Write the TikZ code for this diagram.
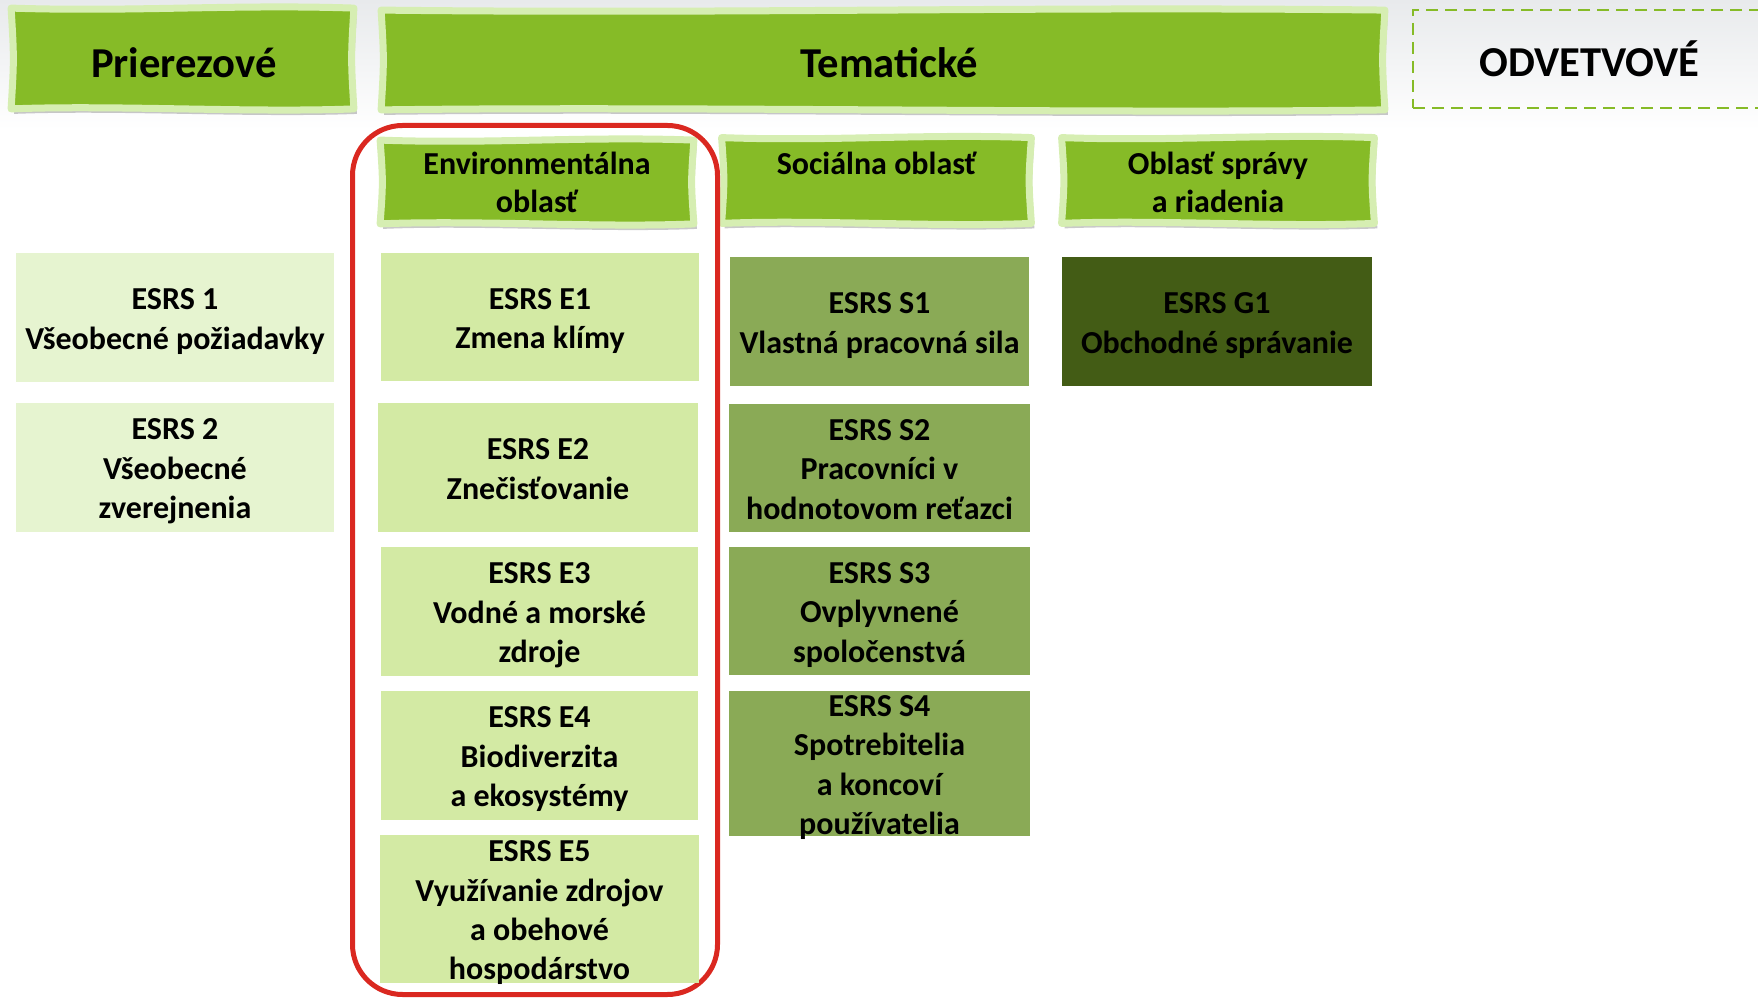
\documentclass[tikz,border=0pt]{standalone}
\usepackage{fontspec}
\setmainfont{Carlito}
\usetikzlibrary{calc,shadows}
\definecolor{hdrgreen}{RGB}{134,187,39}
\definecolor{hdrrim}{RGB}{214,238,178}
\definecolor{plight}{RGB}{230,244,208}
\definecolor{elight}{RGB}{211,234,164}
\definecolor{smid}{RGB}{138,170,86}
\definecolor{gdark}{RGB}{67,92,21}
\definecolor{framered}{RGB}{218,40,32}
\definecolor{topgray}{RGB}{232,234,236}
\pgfdeclarelayer{back}
\pgfdeclarelayer{bg}
\pgfsetlayers{back,bg,main}
\newcommand\ml[1]{\begin{tabular}{@{}c@{}}#1\end{tabular}}
\tikzset{
  hdr/.style={inner sep=0pt, font=\bfseries\fontsize{21.3}{25.5}\selectfont},
  frame/.style={inner sep=0pt},
  subtext/.style={inner sep=0pt, font=\bfseries\fontsize{16}{19.4}\selectfont},
  boxtext/.style={inner sep=0pt, yshift=-2pt, font=\bfseries\fontsize{16}{19.7}\selectfont},
  wavy/.style={fill=hdrgreen, draw=hdrrim, line width=3.5pt, line join=round,
    drop shadow={shadow xshift=1.5pt, shadow yshift=-2.5pt, opacity=0.3, fill=black!70}},
}
\newcommand\wavyshape[1]{%
  \path[wavy] (#1.north west)
    .. controls ($(#1.north west)!0.35!(#1.north east)+(0,4)$) and ($(#1.north west)!0.65!(#1.north east)+(0,-4)$) .. (#1.north east)
    .. controls ($(#1.north east)!0.5!(#1.south east)+(-3,0)$) .. (#1.south east)
    .. controls ($(#1.south east)!0.3!(#1.south west)+(0,4)$) and ($(#1.south east)!0.7!(#1.south west)+(0,-4)$) .. (#1.south west)
    .. controls ($(#1.south west)!0.5!(#1.north west)+(3,0)$) .. cycle;}
% name, colour, width, height, position, text
\newcommand\esrs[6]{%
  \node[frame, fill=#2, minimum width=#3, minimum height=#4] (#1) at (#5) {};
  \node[boxtext] (#1t) at (#1.center) {\ml{#6}};}
\begin{document}
\begin{tikzpicture}[x=0.5pt,y=-0.5pt]
\useasboundingbox (0,0) rectangle (1758,999);
\begin{pgfonlayer}{back}
  \shade[top color=topgray, bottom color=white] (0,0) rectangle (1758,130);
\end{pgfonlayer}

% top headers
\node[frame, minimum width=171pt, minimum height=50pt] (hp) at (182.5,58.5) {};
\node[hdr] (hptext) at (184,63) {Prierezové};
\node[frame, minimum width=501.5pt, minimum height=49.5pt] (ht) at (883,60) {};
\node[hdr] (httext) at (889,63) {Tematické};
\node[hdr, draw=hdrgreen, dash pattern=on 6pt off 3.5pt, line width=1pt,
      minimum width=176.5pt, minimum height=49pt] (ho) at (1589.5,59) {ODVETVOVÉ};

% sub headers
\node[frame, minimum width=156.5pt, minimum height=41.5pt] (fenv) at (537,182) {};
\node[subtext, yshift=-1.9pt] (fenvt) at (fenv.center) {\ml{Environmentálna\\oblasť}};
\node[frame, minimum width=154.5pt, minimum height=42.5pt] (fsoc) at (876.5,180.5) {};
\node[subtext, yshift=-2.6pt] (fsoct) at (fsoc.center) {\ml{Sociálna oblasť\\~}};
\node[frame, minimum width=156pt, minimum height=42.5pt] (fgov) at (1218,180.5) {};
\node[subtext, yshift=-2.6pt] (fgovt) at (fgov.center) {\ml{Oblasť správy\\a riadenia}};

\begin{pgfonlayer}{bg}
  \wavyshape{hp}
  \wavyshape{ht}
  \wavyshape{fenv}
  \wavyshape{fsoc}
  \wavyshape{fgov}
\end{pgfonlayer}

% red frame
\node[draw=framered, line width=2.5pt, rounded corners=25pt, inner sep=0pt,
      minimum width=182.5pt, minimum height=434.5pt] (envframe) at (535,560) {};

% cross-cutting
\esrs{p1}{plight}{159pt}{64.5pt}{175,317.5}{ESRS 1\\Všeobecné požiadavky}
\esrs{p2}{plight}{159pt}{64.5pt}{175,467.5}{ESRS 2\\Všeobecné\\zverejnenia}

% environmental
\esrs{e1}{elight}{159pt}{64pt}{540,317}{ESRS E1\\Zmena klímy}
\esrs{e2}{elight}{160pt}{64.5pt}{538,467.5}{ESRS E2\\Znečisťovanie}
\esrs{e3}{elight}{158.5pt}{64.5pt}{539.5,611.5}{ESRS E3\\Vodné a morské\\zdroje}
\esrs{e4}{elight}{158.5pt}{64.5pt}{539.5,755.5}{ESRS E4\\Biodiverzita\\a ekosystémy}
\esrs{e5}{elight}{159.5pt}{74pt}{539.5,909}{ESRS E5\\Využívanie zdrojov\\a obehové\\hospodárstvo}

% social
\esrs{s1}{smid}{149.5pt}{64.5pt}{879.5,321.5}{ESRS S1\\Vlastná pracovná sila}
\esrs{s2}{smid}{150.5pt}{64pt}{879.5,468}{ESRS S2\\Pracovníci v\\hodnotovom reťazci}
\esrs{s3}{smid}{150.5pt}{64pt}{879.5,611}{ESRS S3\\Ovplyvnené\\spoločenstvá}
\esrs{s4}{smid}{150.5pt}{72.5pt}{879.5,763.5}{ESRS S4\\Spotrebitelia\\a koncoví\\používatelia}

% governance
\esrs{g1}{gdark}{155pt}{64.5pt}{1217,321.5}{ESRS G1\\Obchodné správanie}
\end{tikzpicture}
\end{document}
